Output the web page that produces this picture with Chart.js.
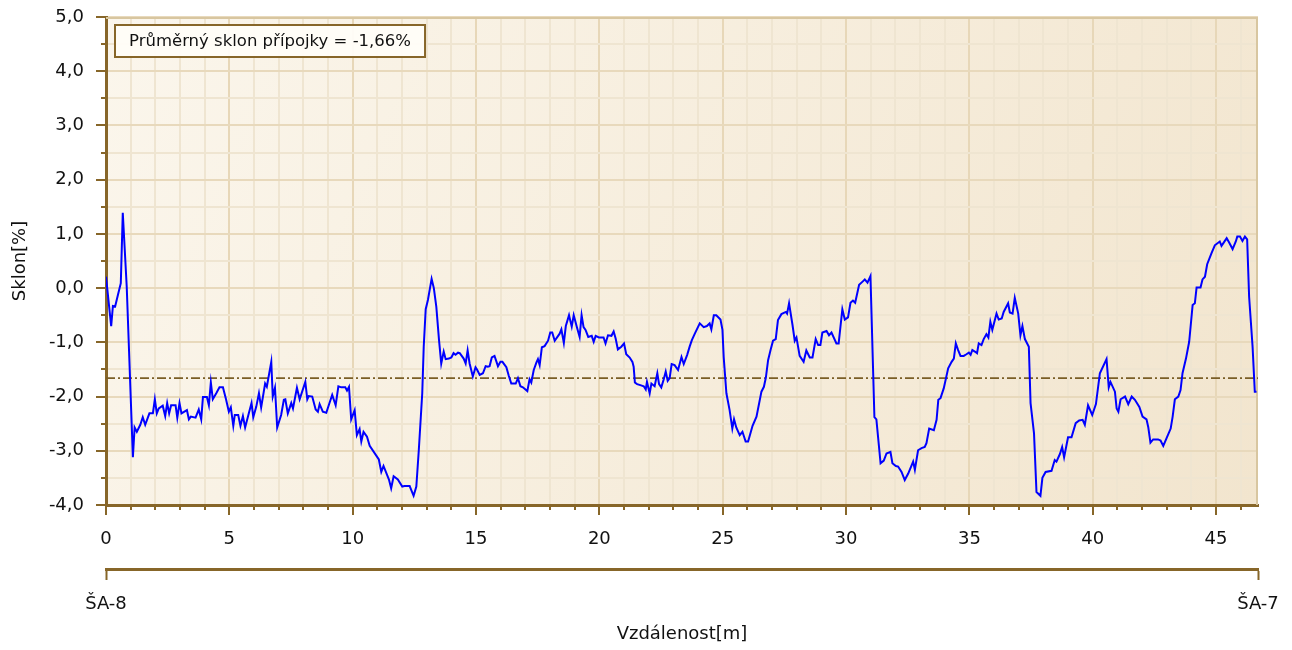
<!DOCTYPE html>
<html>
<head>
<meta charset="utf-8">
<script src="https://cdn.jsdelivr.net/npm/chart.js@4/dist/chart.umd.min.js"></script>
<style>
  html, body { margin: 0; padding: 0; background: #ffffff; }
  #wrap { width: 1292px; height: 650px; position: relative; }
</style>
</head>
<body>
<div id="wrap"><canvas id="c" width="1292" height="650"></canvas></div>
<script>
// Longitudinal slope profile of the connection pipe
const DISTANCE_M = [
  0.00, 0.21, 0.28, 0.37, 0.48, 0.60, 0.68, 0.84, 1.09, 1.16, 1.25, 1.39, 1.49, 1.59, 1.76, 1.90,
  1.98, 2.06, 2.14, 2.30, 2.40, 2.48, 2.56, 2.64, 2.82, 2.89, 2.98, 3.06, 3.28, 3.36, 3.44, 3.63,
  3.76, 3.86, 3.93, 4.09, 4.17, 4.25, 4.33, 4.47, 4.60, 4.74, 4.87, 4.98, 5.06, 5.16, 5.22, 5.36,
  5.45, 5.55, 5.64, 5.79, 5.90, 5.97, 6.09, 6.20, 6.29, 6.45, 6.52, 6.70, 6.76, 6.85, 6.94, 7.10,
  7.21, 7.27, 7.37, 7.51, 7.58, 7.74, 7.85, 8.08, 8.16, 8.22, 8.36, 8.50, 8.59, 8.66, 8.79, 8.93,
  9.06, 9.17, 9.31, 9.42, 9.54, 9.70, 9.77, 9.85, 9.94, 10.08, 10.17, 10.28, 10.35, 10.44, 10.58, 10.69,
  11.06, 11.16, 11.25, 11.47, 11.56, 11.66, 11.83, 12.01, 12.10, 12.31, 12.47, 12.58, 12.68, 12.82, 12.88, 12.96,
  13.05, 13.20, 13.29, 13.39, 13.50, 13.59, 13.69, 13.77, 13.90, 14.00, 14.09, 14.17, 14.27, 14.34, 14.50, 14.58,
  14.66, 14.74, 14.87, 14.98, 15.04, 15.15, 15.28, 15.39, 15.48, 15.55, 15.64, 15.75, 15.89, 15.99, 16.07, 16.23,
  16.33, 16.43, 16.61, 16.70, 16.80, 16.90, 17.08, 17.17, 17.24, 17.34, 17.45, 17.51, 17.58, 17.67, 17.78, 17.92,
  18.01, 18.09, 18.19, 18.39, 18.46, 18.56, 18.64, 18.77, 18.88, 18.96, 19.09, 19.20, 19.28, 19.36, 19.44, 19.55,
  19.69, 19.77, 19.85, 19.98, 20.17, 20.25, 20.35, 20.49, 20.58, 20.66, 20.75, 20.89, 21.00, 21.09, 21.23, 21.34,
  21.39, 21.44, 21.53, 21.66, 21.80, 21.88, 21.93, 22.04, 22.11, 22.24, 22.35, 22.42, 22.51, 22.61, 22.69, 22.77,
  22.85, 22.93, 23.05, 23.19, 23.33, 23.42, 23.56, 23.66, 23.75, 23.87, 24.07, 24.23, 24.36, 24.47, 24.54, 24.64,
  24.74, 24.91, 24.99, 25.04, 25.15, 25.28, 25.39, 25.46, 25.55, 25.69, 25.80, 25.93, 26.03, 26.21, 26.37, 26.57,
  26.67, 26.75, 26.84, 26.94, 27.04, 27.15, 27.24, 27.38, 27.56, 27.61, 27.69, 27.83, 27.92, 27.99, 28.12, 28.28,
  28.39, 28.53, 28.64, 28.77, 28.87, 28.96, 29.04, 29.21, 29.31, 29.41, 29.61, 29.70, 29.85, 29.95, 30.08, 30.18,
  30.28, 30.37, 30.53, 30.67, 30.76, 30.87, 30.99, 31.15, 31.23, 31.40, 31.53, 31.64, 31.80, 31.88, 32.02, 32.11,
  32.25, 32.38, 32.52, 32.72, 32.79, 32.92, 33.06, 33.19, 33.26, 33.37, 33.56, 33.67, 33.74, 33.83, 33.96, 34.14,
  34.28, 34.37, 34.45, 34.54, 34.64, 34.77, 34.88, 34.98, 35.05, 35.12, 35.22, 35.31, 35.38, 35.49, 35.58, 35.69,
  35.77, 35.85, 35.93, 36.10, 36.19, 36.31, 36.39, 36.57, 36.64, 36.75, 36.84, 36.98, 37.07, 37.15, 37.25, 37.41,
  37.48, 37.62, 37.72, 37.88, 37.96, 38.09, 38.33, 38.46, 38.53, 38.67, 38.76, 38.84, 39.00, 39.14, 39.31, 39.45,
  39.59, 39.68, 39.81, 39.98, 40.13, 40.29, 40.56, 40.65, 40.72, 40.90, 40.97, 41.04, 41.13, 41.31, 41.44, 41.58,
  41.71, 41.89, 42.02, 42.18, 42.25, 42.34, 42.45, 42.65, 42.75, 42.86, 42.99, 43.16, 43.24, 43.33, 43.47, 43.56,
  43.64, 43.78, 43.91, 44.05, 44.14, 44.21, 44.37, 44.45, 44.55, 44.64, 44.82, 44.95, 45.15, 45.22, 45.31, 45.43,
  45.53, 45.67, 45.80, 45.86, 45.97, 46.07, 46.17, 46.26, 46.34, 46.48, 46.57, 46.64
];

const SLOPE_PCT = [
  0.21, -0.70, -0.33, -0.34, -0.13, 0.09, 1.39, 0.03, -3.12, -2.57, -2.65, -2.52, -2.38, -2.52, -2.31, -2.31,
  -2.05, -2.31, -2.22, -2.17, -2.36, -2.12, -2.31, -2.16, -2.16, -2.39, -2.12, -2.31, -2.25, -2.42, -2.37, -2.39,
  -2.24, -2.42, -2.01, -2.01, -2.16, -1.74, -2.05, -1.94, -1.83, -1.83, -2.06, -2.28, -2.20, -2.54, -2.34, -2.34,
  -2.54, -2.36, -2.57, -2.31, -2.12, -2.38, -2.19, -1.94, -2.20, -1.76, -1.82, -1.36, -2.00, -1.84, -2.57, -2.34,
  -2.06, -2.05, -2.31, -2.12, -2.22, -1.84, -2.05, -1.73, -2.05, -1.99, -2.00, -2.24, -2.28, -2.14, -2.28, -2.30,
  -2.12, -1.97, -2.16, -1.81, -1.83, -1.83, -1.89, -1.82, -2.42, -2.25, -2.71, -2.60, -2.83, -2.65, -2.74, -2.91,
  -3.16, -3.39, -3.28, -3.53, -3.69, -3.47, -3.53, -3.66, -3.65, -3.65, -3.83, -3.66, -2.99, -1.94, -1.08, -0.39,
  -0.22, 0.17, 0.00, -0.34, -0.96, -1.39, -1.17, -1.31, -1.30, -1.28, -1.20, -1.23, -1.19, -1.20, -1.30, -1.39,
  -1.15, -1.39, -1.63, -1.46, -1.50, -1.60, -1.57, -1.44, -1.45, -1.44, -1.28, -1.25, -1.44, -1.36, -1.36, -1.46,
  -1.62, -1.76, -1.76, -1.66, -1.81, -1.83, -1.90, -1.68, -1.74, -1.51, -1.37, -1.31, -1.42, -1.09, -1.07, -0.97,
  -0.82, -0.82, -0.97, -0.84, -0.76, -1.01, -0.70, -0.50, -0.71, -0.50, -0.72, -0.90, -0.50, -0.72, -0.77, -0.90,
  -0.88, -0.99, -0.88, -0.91, -0.91, -1.02, -0.87, -0.88, -0.80, -0.93, -1.13, -1.08, -1.02, -1.22, -1.28, -1.36,
  -1.45, -1.74, -1.77, -1.79, -1.81, -1.87, -1.73, -1.94, -1.76, -1.81, -1.57, -1.77, -1.83, -1.68, -1.54, -1.71,
  -1.66, -1.40, -1.42, -1.51, -1.27, -1.40, -1.23, -1.08, -0.96, -0.84, -0.65, -0.72, -0.70, -0.65, -0.76, -0.50,
  -0.50, -0.58, -0.77, -1.27, -1.94, -2.25, -2.59, -2.42, -2.57, -2.71, -2.65, -2.83, -2.83, -2.54, -2.37, -1.91,
  -1.82, -1.65, -1.33, -1.14, -0.97, -0.94, -0.59, -0.48, -0.44, -0.47, -0.28, -0.68, -0.97, -0.91, -1.25, -1.36,
  -1.15, -1.28, -1.28, -0.94, -1.05, -1.05, -0.82, -0.79, -0.87, -0.82, -1.02, -1.02, -0.39, -0.58, -0.54, -0.27,
  -0.23, -0.27, 0.06, 0.12, 0.16, 0.10, 0.22, -2.38, -2.42, -3.23, -3.18, -3.05, -3.02, -3.23, -3.28, -3.29,
  -3.39, -3.54, -3.42, -3.20, -3.35, -2.99, -2.95, -2.93, -2.86, -2.59, -2.62, -2.43, -2.06, -2.03, -1.85, -1.48,
  -1.36, -1.30, -1.02, -1.14, -1.25, -1.25, -1.22, -1.19, -1.23, -1.14, -1.17, -1.20, -1.02, -1.05, -0.94, -0.85,
  -0.91, -0.62, -0.77, -0.47, -0.58, -0.56, -0.44, -0.28, -0.45, -0.47, -0.18, -0.47, -0.87, -0.70, -0.94, -1.08,
  -2.12, -2.68, -3.76, -3.83, -3.50, -3.39, -3.37, -3.17, -3.20, -3.06, -2.93, -3.12, -2.75, -2.75, -2.49, -2.44,
  -2.43, -2.52, -2.16, -2.34, -2.14, -1.57, -1.31, -1.83, -1.73, -1.91, -2.22, -2.28, -2.05, -2.00, -2.14, -2.00,
  -2.06, -2.19, -2.37, -2.42, -2.56, -2.85, -2.79, -2.79, -2.81, -2.91, -2.77, -2.59, -2.37, -2.05, -2.00, -1.88,
  -1.57, -1.30, -0.99, -0.31, -0.28, 0.01, 0.01, 0.16, 0.21, 0.44, 0.65, 0.79, 0.86, 0.78, 0.84, 0.92,
  0.84, 0.72, 0.86, 0.95, 0.95, 0.87, 0.95, 0.90, -0.16, -1.08, -1.91, -1.91
];

// Mean slope of the whole connection
const MEAN_SLOPE = -1.66;

// Manholes at both ends of the pipe
const STATION_NAMES = ['ŠA-8', 'ŠA-7'];
const STATION_POS = [0, 46.7];

// Axis ranges
const X_MIN = 0, X_MAX = 46.7;
const Y_MIN = -4, Y_MAX = 5;

const FONT = '"DejaVu Sans", Verdana, sans-serif';
const BROWN = '#876629';

function fmtComma(v, digits) {
  return v.toFixed(digits).replace('.', ',');
}

const profile = DISTANCE_M.map((d, i) => ({ x: d, y: SLOPE_PCT[i] }));
const meanLine = [{ x: X_MIN, y: MEAN_SLOPE }, { x: X_MAX, y: MEAN_SLOPE }];

// Cream gradient behind the plot area
const plotBackground = {
  id: 'plotBackground',
  beforeDraw(chart) {
    const { ctx, chartArea: a } = chart;
    const g = ctx.createLinearGradient(a.left, a.top, a.right, a.bottom);
    g.addColorStop(0, '#FBF6EC');
    g.addColorStop(1, '#F2E5CE');
    ctx.save();
    ctx.fillStyle = g;
    ctx.fillRect(a.left, a.top, a.right - a.left, a.bottom - a.top);
    ctx.restore();
  },
  beforeDatasetsDraw(chart) {
    // light frame on the top and right edges
    const { ctx, chartArea: a } = chart;
    ctx.save();
    ctx.strokeStyle = '#D8C6A0';
    ctx.lineWidth = 2;
    ctx.beginPath();
    ctx.moveTo(a.left, a.top + 1);
    ctx.lineTo(a.right - 1, a.top + 1);
    ctx.lineTo(a.right - 1, a.bottom);
    ctx.stroke();
    ctx.restore();
  }
};

// Major / minor tick marks outside the axes
const tickMarks = {
  id: 'tickMarks',
  afterDraw(chart) {
    const { ctx, chartArea: a } = chart;
    const xs = chart.scales.x, ys = chart.scales.y;
    ctx.save();
    ctx.strokeStyle = BROWN;
    ctx.lineWidth = 2;
    ctx.beginPath();
    ys.ticks.forEach(t => {
      const py = Math.round(ys.getPixelForValue(t.value));
      const len = Number.isInteger(t.value) ? 10 : 5;
      ctx.moveTo(a.left - len, py);
      ctx.lineTo(a.left, py);
    });
    xs.ticks.forEach(t => {
      const px = Math.round(xs.getPixelForValue(t.value));
      const len = t.value % 5 === 0 ? 10 : 5;
      ctx.moveTo(px, a.bottom);
      ctx.lineTo(px, a.bottom + len);
    });
    ctx.stroke();
    ctx.restore();
  }
};

// Info box with the mean slope
const meanBox = {
  id: 'meanBox',
  afterDraw(chart) {
    const { ctx, chartArea: a } = chart;
    const text = 'Průměrný sklon přípojky = ' + fmtComma(MEAN_SLOPE, 2) + '%';
    ctx.save();
    ctx.font = '16.5px ' + FONT;
    const w = ctx.measureText(text).width;
    const bx = a.left + 9, by = a.top + 8, bw = w + 28, bh = 32;
    ctx.fillStyle = 'rgba(255,253,248,0.95)';
    ctx.fillRect(bx, by, bw, bh);
    ctx.strokeStyle = BROWN;
    ctx.lineWidth = 2;
    ctx.strokeRect(bx, by, bw, bh);
    ctx.fillStyle = '#111111';
    ctx.textBaseline = 'middle';
    ctx.fillText(text, bx + 14, by + bh / 2 + 1);
    ctx.restore();
  }
};

new Chart(document.getElementById('c'), {
  type: 'line',
  data: {
    datasets: [
      {
        label: 'Sklon',
        data: profile,
        borderColor: '#0000FF',
        borderWidth: 2,
        pointRadius: 0,
        tension: 0,
        fill: false,
        order: 1
      },
      {
        label: 'Průměrný sklon',
        data: meanLine,
        borderColor: '#7A5E26',
        borderWidth: 1.6,
        borderDash: [9, 3, 2, 3],
        pointRadius: 0,
        fill: false,
        order: 2
      }
    ]
  },
  options: {
    responsive: false,
    animation: false,
    parsing: true,
    layout: { padding: { left: 0, right: 34, top: 17, bottom: 0 } },
    plugins: {
      legend: { display: false },
      tooltip: { enabled: false }
    },
    scales: {
      x: {
        type: 'linear',
        position: 'bottom',
        min: X_MIN,
        max: X_MAX,
        afterFit(s) { s.height = 64; s.paddingLeft = 0; s.paddingRight = 0; },
        border: { display: true, color: BROWN, width: 3 },
        grid: {
          drawTicks: false,
          lineWidth: 2,
          color: c => (c.tick && c.tick.value % 5 === 0) ? '#E7D7B8' : '#EFE5D1'
        },
        ticks: {
          stepSize: 1,
          includeBounds: false,
          autoSkip: false,
          maxRotation: 0,
          padding: 24,
          color: '#111111',
          font: { family: FONT, size: 18 },
          callback: v => (v % 5 === 0 ? String(v) : '')
        }
      },
      x2: {
        type: 'linear',
        position: 'bottom',
        min: X_MIN,
        max: X_MAX,
        afterFit(s) { s.height = 81; s.paddingLeft = 0; s.paddingRight = 0; },
        afterBuildTicks(s) { s.ticks = STATION_POS.map(v => ({ value: v })); },
        border: { display: true, color: BROWN, width: 3 },
        grid: {
          drawOnChartArea: false,
          drawTicks: true,
          tickLength: 11,
          tickWidth: 2,
          tickColor: BROWN
        },
        ticks: {
          autoSkip: false,
          maxRotation: 0,
          padding: 14,
          color: '#111111',
          font: { family: FONT, size: 18 },
          callback: (v, i) => STATION_NAMES[i]
        },
        title: {
          display: true,
          text: 'Vzdálenost[m]',
          color: '#111111',
          font: { family: FONT, size: 18 },
          padding: { top: 0, bottom: 5 }
        }
      },
      y: {
        type: 'linear',
        min: Y_MIN,
        max: Y_MAX,
        afterFit(s) { s.width = 106; s.paddingTop = 0; s.paddingBottom = 0; },
        border: { display: true, color: BROWN, width: 3 },
        grid: {
          drawTicks: false,
          lineWidth: 2,
          color: c => (c.tick && Number.isInteger(c.tick.value)) ? '#E8D9BC' : '#EFE5D1'
        },
        ticks: {
          stepSize: 0.5,
          autoSkip: false,
          padding: 22,
          color: '#111111',
          font: { family: FONT, size: 18 },
          callback: v => (Number.isInteger(v) ? fmtComma(v, 1) : '')
        },
        title: {
          display: true,
          text: 'Sklon[%]',
          color: '#111111',
          font: { family: FONT, size: 18 },
          padding: { top: 10, bottom: 0 }
        }
      }
    }
  },
  plugins: [plotBackground, tickMarks, meanBox]
});
</script>
</body>
</html>
